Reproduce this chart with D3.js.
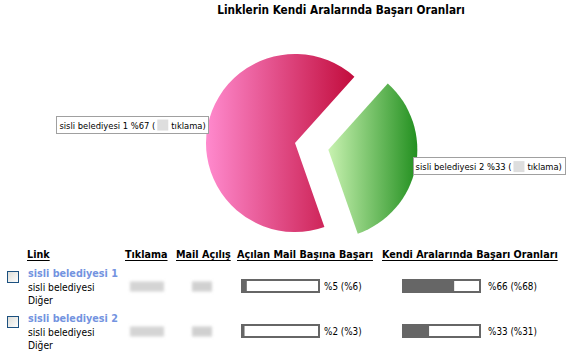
<!DOCTYPE html>
<html><head><meta charset="utf-8">
<script src="https://cdn.jsdelivr.net/npm/d3@7"></script>
<style>
body{margin:0;background:#fff;}
svg{display:block;font-family:"DejaVu Sans Condensed","DejaVu Sans",sans-serif;}
</style></head>
<body><svg id="c" width="568" height="356"></svg>
<script>
const chartTitle = "Linklerin Kendi Aralarında Başarı Oranları";
const sliceNames = ["sisli belediyesi 1", "sisli belediyesi 2"];
const slicePercents = [67, 33];
const clickWord = "tıklama)";
const columns = ["Link", "Tıklama", "Mail Açılış", "Açılan Mail Başına Başarı", "Kendi Aralarında Başarı Oranları"];
const rowTitles = ["sisli belediyesi 1", "sisli belediyesi 2"];
const rowSub1 = ["sisli belediyesi", "sisli belediyesi"];
const rowSub2 = ["Diğer", "Diğer"];
const mailSuccess = [5, 2];
const mailSuccessPrev = [6, 3];
const shareSuccess = [66, 33];
const shareSuccessPrev = [68, 31];

const svg = d3.select("#c");
const defs = svg.append("defs");
const blur = defs.append("filter").attr("id","blur").attr("x","-30%").attr("y","-50%").attr("width","160%").attr("height","200%");
blur.append("feGaussianBlur").attr("stdDeviation",1.6);

const gradStops = [["#ff8ace","#c20c3c"],["#c8f2b0","#239020"]];
gradStops.forEach((s,i)=>{
  const g = defs.append("linearGradient").attr("id","pg"+i).attr("x1",0).attr("x2",1).attr("y1",0).attr("y2",0);
  g.append("stop").attr("offset",0).attr("stop-color",s[0]);
  g.append("stop").attr("offset",1).attr("stop-color",s[1]);
});
const cb = defs.append("linearGradient").attr("id","cbg").attr("x1",0).attr("y1",0).attr("x2",1).attr("y2",1);
cb.append("stop").attr("offset",0).attr("stop-color","#dcdcd6");
cb.append("stop").attr("offset",1).attr("stop-color","#ffffff");

// title
svg.append("text").attr("x",341).attr("y",14).attr("text-anchor","middle")
  .attr("font-weight","bold").attr("font-size",11.7).attr("fill","#000").text(chartTitle);

// pie
const cx = 295, cy = 143, R = 89, explode = 34;
const start = 160.7*Math.PI/180;
const pie = d3.pie().sort(null).startAngle(start).endAngle(start+2*Math.PI);
const arc = d3.arc().innerRadius(0).outerRadius(R);
const arcs = pie(slicePercents);
const pg = svg.append("g").attr("transform",`translate(${cx},${cy})`);
arcs.forEach((a,i)=>{
  const mid = (a.startAngle+a.endAngle)/2;
  const off = i===1 ? explode : 0;
  const ox = Math.sin(mid)*off, oy = -Math.cos(mid)*off;
  pg.append("path").attr("d",arc(a)).attr("transform",`translate(${ox},${oy})`).attr("fill",`url(#pg${i})`);
});

// pie labels
const lblSize = 9.3;
arcs.forEach((a,i)=>{
  const mid = (a.startAngle+a.endAngle)/2;
  const off = i===1 ? explode : 0;
  const px = cx + Math.sin(mid)*(R+off), py = cy - Math.cos(mid)*(R+off);
  const g = svg.append("g");
  const rect = g.append("rect").attr("fill","#fff").attr("stroke","#a0a0a0").attr("stroke-width",1);
  const t1 = g.append("text").attr("font-size",lblSize).attr("fill","#000").text(`${sliceNames[i]} %${slicePercents[i]} (`);
  const w1 = t1.node().getComputedTextLength();
  const gapW = 11;
  const t2 = g.append("text").attr("font-size",lblSize).attr("fill","#000").text(clickWord);
  const w2 = t2.node().getComputedTextLength();
  const pad = 3;
  const total = pad + w1 + 2 + gapW + 3 + w2 + pad;
  const left = Math.sin(mid) < 0 ? px - total + 1 : px - 3;
  const top = py - 10;
  rect.attr("x",Math.round(left)+0.5).attr("y",Math.round(top)+0.5).attr("width",Math.round(total)).attr("height",17);
  t1.attr("x",left+pad).attr("y",top+13);
  g.append("rect").attr("x",left+pad+w1+2).attr("y",top+4).attr("width",gapW).attr("height",11).attr("fill","#dedede");
  t2.attr("x",left+pad+w1+2+gapW+3).attr("y",top+13);
});

// table headers
const colX = [27,125,176,237,382];
columns.forEach((c,i)=>{
  const t = svg.append("text").attr("x",colX[i]).attr("y",258).attr("font-weight","bold").attr("font-size",10.7).attr("fill","#000").text(c);
  const w = t.node().getComputedTextLength();
  svg.append("line").attr("x1",colX[i]).attr("x2",colX[i]+w).attr("y1",260.5).attr("y2",260.5).attr("stroke","#000").attr("stroke-width",1);
});

const rowY = d3.scalePoint().domain(d3.range(rowTitles.length)).range([277,322]);
const barX = d3.scaleLinear().domain([0,100]).range([0,76]);
function bar(x, y, v){
  svg.append("rect").attr("x",x+1).attr("y",y+1).attr("width",77).attr("height",12).attr("fill","#fff").attr("stroke","#666").attr("stroke-width",2);
  svg.append("rect").attr("x",x).attr("y",y).attr("width",2+barX(v)).attr("height",14).attr("fill","#666");
}
rowTitles.forEach((r,i)=>{
  const y = rowY(i);
  svg.append("rect").attr("x",7.5).attr("y",y-5.5).attr("width",11).attr("height",11).attr("fill","url(#cbg)").attr("stroke","#1c5180").attr("stroke-width",1);
  svg.append("text").attr("x",28).attr("y",y).attr("font-weight","bold").attr("font-size",10.7).attr("fill","#7393e0").text(r);
  svg.append("text").attr("x",28).attr("y",y+13.5).attr("font-size",10.2).attr("fill","#000").text(rowSub1[i]);
  svg.append("text").attr("x",28).attr("y",y+26.5).attr("font-size",10.2).attr("fill","#000").text(rowSub2[i]);
  svg.append("rect").attr("x",130).attr("y",y+4.5).attr("width",34).attr("height",10).attr("fill","#d4d4d4").attr("filter","url(#blur)");
  svg.append("rect").attr("x",192).attr("y",y+4.5).attr("width",20).attr("height",10).attr("fill","#d0d0d0").attr("filter","url(#blur)");
  bar(241, y+2, mailSuccess[i]);
  svg.append("text").attr("x",324).attr("y",y+13).attr("font-size",9.8).attr("fill","#000").text(`%${mailSuccess[i]} (%${mailSuccessPrev[i]})`);
  bar(402, y+2, shareSuccess[i]);
  svg.append("text").attr("x",488).attr("y",y+13).attr("font-size",9.8).attr("fill","#000").text(`%${shareSuccess[i]} (%${shareSuccessPrev[i]})`);
});
</script></body></html>
